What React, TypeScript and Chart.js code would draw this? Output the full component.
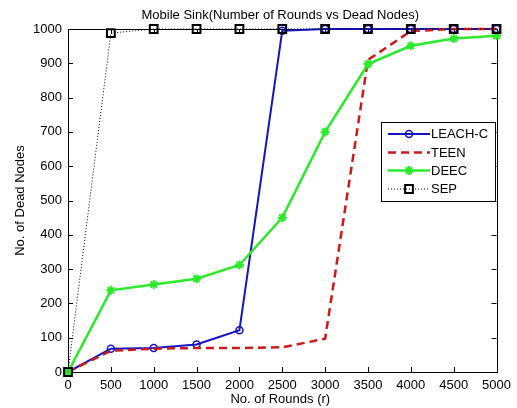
import React, { useEffect, useRef } from "react";
import { Chart, registerables } from "chart.js";

Chart.register(...registerables);

const rounds = [0, 500, 1000, 1500, 2000, 2500, 3000, 3500, 4000, 4500, 5000];
const leachC = [0, 68, 70, 80, 122, 995, 1000, 1000, 1000, 1000, 1000];
const teen = [0, 62, 68, 70, 70, 72, 97, 910, 994, 1000, 1000];
const deec = [0, 238, 255, 272, 312, 450, 700, 898, 951, 972, 980];
const sep = [0, 988, 1000, 1000, 1000, 1000, 1000, 1000, 1000, 1000, 1000];
const seriesNames = ["LEACH-C", "TEEN", "DEEC", "SEP"];
const xTicks = [0, 500, 1000, 1500, 2000, 2500, 3000, 3500, 4000, 4500, 5000];
const yTicks = [0, 100, 200, 300, 400, 500, 600, 700, 800, 900, 1000];
const titleText = "Mobile Sink(Number of Rounds vs Dead Nodes)";
const xTitle = "No. of Rounds (r)";
const yTitle = "No. of Dead Nodes";

const BLUE = "#1414c4";
const RED = "#cc1a1a";
const GREEN = "#2aea2a";
const BLACK = "#000000";
const FAMILY = "'Liberation Sans', Arial, sans-serif";
const FONT = "13px " + FAMILY;

const pts = (ys: number[]) => rounds.map((x, i) => ({ x, y: ys[i] }));

function drawMarker(ctx: CanvasRenderingContext2D, style: string, r: number, x: number, y: number) {
  ctx.beginPath();
  if (style === "circle") {
    ctx.arc(x, y, r, 0, Math.PI * 2);
    ctx.stroke();
  } else if (style === "rect") {
    const s = Math.SQRT1_2 * r;
    ctx.rect(x - s, y - s, 2 * s, 2 * s);
    ctx.stroke();
  } else if (style === "star") {
    for (let k = 0; k < 4; k++) {
      const ang = (k * Math.PI) / 4;
      const dx = Math.cos(ang) * r, dy = Math.sin(ang) * r;
      ctx.moveTo(x - dx, y - dy);
      ctx.lineTo(x + dx, y + dy);
    }
    ctx.stroke();
  }
}

const decorPlugin = {
  id: "decor",
  beforeDatasetsDraw(chart: any) {
    const { ctx, chartArea: a, scales } = chart;
    ctx.save();
    ctx.strokeStyle = "#000";
    ctx.lineWidth = 1;
    ctx.beginPath();
    const tl = 5;
    xTicks.forEach((v) => {
      const x = Math.round(scales.x.getPixelForValue(v)) + 0.5;
      ctx.moveTo(x, a.bottom);
      ctx.lineTo(x, a.bottom - tl);
      ctx.moveTo(x, a.top);
      ctx.lineTo(x, a.top + tl);
    });
    yTicks.forEach((v) => {
      const y = Math.round(scales.y.getPixelForValue(v)) + 0.5;
      ctx.moveTo(a.left, y);
      ctx.lineTo(a.left + tl, y);
      ctx.moveTo(a.right, y);
      ctx.lineTo(a.right - tl, y);
    });
    ctx.stroke();
    ctx.strokeRect(Math.round(a.left) + 0.5, Math.round(a.top) + 0.5, Math.round(a.right - a.left), Math.round(a.bottom - a.top));
    ctx.restore();
  },
  afterDraw(chart: any) {
    const { ctx, chartArea: a } = chart;
    ctx.save();
    ctx.fillStyle = "#000";
    ctx.font = FONT;
    ctx.textAlign = "center";
    ctx.textBaseline = "middle";
    const cx = (a.left + a.right) / 2;
    ctx.fillText(titleText, cx - 2, 15);
    ctx.fillText(xTitle, cx - 2, 399);
    ctx.save();
    ctx.translate(20, (a.top + a.bottom) / 2);
    ctx.rotate(-Math.PI / 2);
    ctx.fillText(yTitle, 0, 0);
    ctx.restore();

    // legend
    const lx = 381.5, ly = 122.5, lw = 114, lh = 79;
    ctx.fillStyle = "#fff";
    ctx.fillRect(lx, ly, lw, lh);
    ctx.strokeStyle = "#000";
    ctx.lineWidth = 1;
    ctx.strokeRect(lx, ly, lw, lh);
    const rows = [134, 152.5, 170.5, 189];
    const x0 = 388, x1 = 430, xm = 409;
    chart.data.datasets.forEach((ds: any, i: number) => {
      const y = rows[i];
      ctx.save();
      ctx.strokeStyle = ds.borderColor;
      ctx.lineWidth = ds.borderWidth;
      ctx.setLineDash(ds.borderDash || []);
      ctx.beginPath();
      ctx.moveTo(x0, y);
      ctx.lineTo(x1, y);
      ctx.stroke();
      ctx.restore();
      if (ds.pointRadius > 0) {
        ctx.save();
        ctx.strokeStyle = ds.pointBorderColor;
        ctx.lineWidth = ds.pointBorderWidth;
        ctx.setLineDash([]);
        drawMarker(ctx, ds.pointStyle, ds.pointRadius, xm, y);
        ctx.restore();
      }
      ctx.fillStyle = "#000";
      ctx.font = FONT;
      ctx.textAlign = "left";
      ctx.textBaseline = "middle";
      ctx.fillText(seriesNames[i], 431, y + 0.5);
    });
    ctx.restore();
  },
};

export default function App() {
  const ref = useRef<HTMLCanvasElement | null>(null);
  useEffect(() => {
    document.body.style.margin = "0";
    const canvas = ref.current!;
    const tickFont = { family: FAMILY, size: 13 };
    const chart = new Chart(canvas, {
      type: "line",
      data: {
        datasets: [
          {
            label: seriesNames[0],
            data: pts(leachC),
            borderColor: BLUE,
            borderWidth: 2,
            pointStyle: "circle",
            pointRadius: 3.5,
            pointBorderWidth: 1.5,
            pointBorderColor: BLUE,
            pointBackgroundColor: "rgba(0,0,0,0)",
            order: 3,
            clip: false,
          } as any,
          {
            label: seriesNames[1],
            data: pts(teen),
            borderColor: RED,
            borderWidth: 2.5,
            borderDash: [8, 5],
            pointRadius: 0,
            order: 2,
            clip: false,
          },
          {
            label: seriesNames[2],
            data: pts(deec),
            borderColor: GREEN,
            borderWidth: 2.5,
            pointStyle: "star",
            pointRadius: 4.5,
            pointBorderWidth: 2,
            pointBorderColor: GREEN,
            pointBackgroundColor: GREEN,
            order: 1,
            clip: false,
          },
          {
            label: seriesNames[3],
            data: pts(sep),
            borderColor: BLACK,
            borderWidth: 1,
            borderDash: [1, 2],
            pointStyle: "rect",
            pointRadius: 5.5,
            pointBorderWidth: 2,
            pointBorderColor: BLACK,
            pointBackgroundColor: "rgba(0,0,0,0)",
            order: 0,
            clip: false,
          },
        ],
      },
      options: {
        animation: false,
        responsive: false,
        devicePixelRatio: 1,
        layout: { padding: { top: 29, right: 15, left: 0, bottom: 0 } },
        plugins: { legend: { display: false }, tooltip: { enabled: false }, title: { display: false } },
        elements: { line: { tension: 0 } },
        scales: {
          x: {
            type: "linear",
            min: 0,
            max: 5000,
            afterBuildTicks: (s: any) => { s.ticks = xTicks.map((v) => ({ value: v })); },
            afterFit: (s: any) => { s.height = 36; },
            grid: { display: false, drawTicks: false },
            border: { display: false },
            ticks: { color: "#000", font: tickFont, padding: 6, maxRotation: 0, autoSkip: false, callback: (v: any) => String(v) },
          },
          y: {
            type: "linear",
            min: 0,
            max: 1000,
            afterBuildTicks: (s: any) => { s.ticks = yTicks.map((v) => ({ value: v })); },
            afterFit: (s: any) => { s.width = 68; },
            grid: { display: false, drawTicks: false },
            border: { display: false },
            ticks: { color: "#000", font: tickFont, padding: 6, autoSkip: false, callback: (v: any) => String(v) },
          },
        },
      },
      plugins: [decorPlugin],
    });
    return () => chart.destroy();
  }, []);
  return (
    <div style={{ position: "absolute", left: 0, top: 0, width: 517, height: 408, background: "#fff" }}>
      <canvas ref={ref} width={517} height={408} style={{ width: 517, height: 408, display: "block" }} />
    </div>
  );
}
